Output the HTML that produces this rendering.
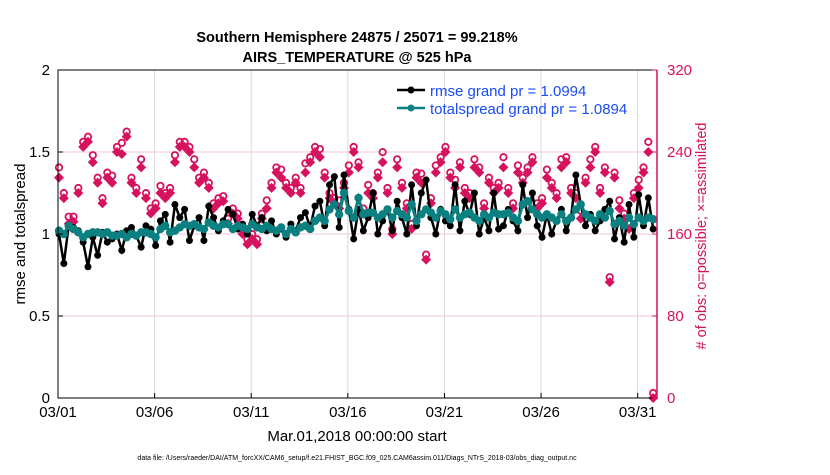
<!DOCTYPE html>
<html><head><meta charset="utf-8"><style>
body{margin:0;background:#fff;}
svg{font-family:"Liberation Sans",sans-serif;}
</style></head><body>
<svg id="c" width="830" height="470" xmlns="http://www.w3.org/2000/svg">
<g id="grid"></g>
<g id="marks"></g>
<g id="axes"></g>
<text x="357" y="42" text-anchor="middle" font-size="14.5" font-weight="bold">Southern Hemisphere 24875 / 25071 = 99.218%</text>
<text x="357" y="62" text-anchor="middle" font-size="14.5" font-weight="bold">AIRS_TEMPERATURE @ 525 hPa</text>
<text transform="translate(25,234) rotate(-90)" text-anchor="middle" font-size="15">rmse and totalspread</text>
<text transform="translate(706,236) rotate(-90)" text-anchor="middle" font-size="14.5" fill="#d6115e"># of obs: o=possible; ×=assimilated</text>
<text x="357" y="441" text-anchor="middle" font-size="15">Mar.01,2018 00:00:00 start</text>
<text x="357" y="460" text-anchor="middle" font-size="7">data file: /Users/raeder/DAI/ATM_forcXX/CAM6_setup/f.e21.FHIST_BGC.f09_025.CAM6assim.011/Diags_NTrS_2018-03/obs_diag_output.nc</text>
<g>
<line x1="397" y1="90" x2="425" y2="90" stroke="#000" stroke-width="2.5"/>
<circle cx="411" cy="90" r="3.5" fill="#000"/>
<text x="430" y="96" font-size="15" fill="#1a4cf5">rmse grand pr = 1.0994</text>
<line x1="397" y1="108" x2="425" y2="108" stroke="#0a8080" stroke-width="2.5"/>
<circle cx="411" cy="108" r="3.5" fill="#0a8080"/>
<text x="430" y="114" font-size="15" fill="#1a4cf5">totalspread grand pr = 1.0894</text>
</g>
</svg>
<script>
const xTickLabels=["03/01","03/06","03/11","03/16","03/21","03/26","03/31"];
const xTickDays=[0,5,10,15,20,25,30];
const yTicksLeft=[0,0.5,1,1.5,2];
const yTicksRight=[0,80,160,240,320];
const rmse=[1.00,0.82,1.05,1.04,1.02,0.95,0.80,0.98,0.87,1.01,0.95,0.97,1.00,0.90,1.02,1.04,0.99,0.92,1.05,1.03,
0.93,1.08,1.12,0.95,1.18,1.10,1.15,0.96,1.05,1.10,0.96,1.17,1.10,1.02,1.08,1.15,1.12,1.03,1.06,1.00,
1.12,1.05,1.10,1.02,1.08,1.00,1.03,0.98,1.06,1.02,1.10,1.13,1.04,1.17,1.20,1.05,1.30,1.35,1.04,1.36,
1.15,0.97,1.15,1.02,1.10,1.25,1.00,1.08,1.15,1.02,1.20,1.10,1.00,1.30,1.05,1.25,1.33,1.10,1.00,1.15,
1.08,1.05,1.30,1.02,1.20,1.12,1.25,1.00,1.10,1.02,1.25,1.03,1.05,1.15,1.08,1.02,1.30,1.10,1.25,1.05,
0.98,1.12,1.00,1.08,1.15,1.02,1.10,1.36,1.18,1.05,1.12,1.02,1.08,1.15,1.20,0.97,1.10,0.95,1.18,0.98,
1.24,1.05,1.22,1.03];
const spread=[1.02,1.00,1.05,1.03,1.01,0.98,1.00,1.01,1.01,1.00,1.01,0.99,0.99,1.00,0.98,1.00,0.99,1.01,1.01,1.00,
0.98,1.03,1.05,1.01,1.02,1.04,1.06,1.05,1.06,1.04,1.03,1.07,1.05,1.04,1.06,1.06,1.03,1.05,1.04,1.03,
1.06,1.04,1.03,1.05,1.03,1.02,1.04,1.00,1.03,1.01,1.04,1.05,1.03,1.08,1.10,1.08,1.15,1.18,1.12,1.25,
1.14,1.10,1.22,1.12,1.13,1.13,1.10,1.12,1.15,1.10,1.14,1.12,1.10,1.18,1.08,1.12,1.15,1.13,1.10,1.14,
1.12,1.09,1.15,1.10,1.12,1.13,1.10,1.08,1.12,1.10,1.13,1.12,1.12,1.13,1.10,1.08,1.18,1.20,1.15,1.12,
1.10,1.12,1.10,1.08,1.12,1.08,1.10,1.15,1.18,1.12,1.10,1.08,1.12,1.10,1.14,1.06,1.08,1.05,1.10,1.06,
1.10,1.08,1.10,1.09];
const obsAssim=[215,195,170,172,200,245,250,230,210,190,215,210,240,238,255,210,200,225,195,180,
185,200,195,200,230,245,245,240,225,210,215,205,185,190,192,170,180,175,160,150,
155,150,175,185,205,220,215,205,200,210,200,220,230,240,235,215,195,190,185,205,
220,240,225,180,200,195,215,230,200,160,225,205,185,165,215,210,135,190,220,230,
240,215,205,225,200,195,225,220,185,210,200,205,225,200,185,220,210,220,230,185,
190,215,205,195,225,230,200,195,175,210,225,240,200,220,113,215,185,175,165,195,
205,220,240,0];
const obsPoss=[220,195,172,172,200,245,250,232,210,190,215,212,240,244,255,210,200,228,195,180,
185,202,195,200,232,245,245,240,228,210,215,205,185,190,192,170,180,175,162,150,
155,150,175,188,205,220,218,205,200,210,200,224,230,240,238,215,195,190,188,205,
222,240,225,180,203,195,215,235,200,160,228,205,185,165,215,214,135,190,222,230,
240,215,208,225,200,195,228,220,185,210,200,205,230,200,185,222,210,220,230,185,
190,218,205,195,228,230,200,195,178,210,228,240,200,220,113,215,188,175,165,195,
208,220,245,0];
const NS="http://www.w3.org/2000/svg";
const X0=58,X1=657,Y0=398,Y1=70;
const xs=d=>X0+d*(X1-X0)/31;
const xi=i=>xs(i*0.25)+1;
const yl=v=>Y0-v/2*(Y0-Y1);
const yr=v=>Y0-v/320*(Y0-Y1);
function mk(tag,attrs,parent){const e=document.createElementNS(NS,tag);for(const k in attrs)e.setAttribute(k,attrs[k]);document.getElementById(parent).appendChild(e);return e;}
xTickDays.forEach(d=>{const l=mk('line',{x1:xs(d),x2:xs(d),y1:Y1,y2:Y0,stroke:'#d9d9d9','stroke-width':1},'grid');

});
yTicksRight.forEach(v=>{const l=mk('line',{x1:X0,x2:X1,y1:yr(v),y2:yr(v),stroke:'#f6c6d8','stroke-width':1},'grid');

});
obsPoss.forEach((v,i)=>{const c=mk('circle',{cx:xi(i),cy:yr(v)-5,r:3.2,fill:'none',stroke:'#d6115e','stroke-width':1.8},'marks');

});
obsAssim.forEach((v,i)=>{const x=xi(i),y=yr(v);const p=mk('path',{d:`M${x-5} ${y}L${x} ${y-5}L${x+5} ${y}L${x} ${y+5}Z`,fill:'#d6115e'},'marks');

});
function series(arr,col,name,w,r){const pl=mk('polyline',{points:arr.map((v,i)=>xi(i)+','+yl(v)).join(' '),fill:'none',stroke:col,'stroke-width':w},'marks');


arr.forEach((v,i)=>{const c=mk('circle',{cx:xi(i),cy:yl(v),r:r,fill:col},'marks');

});}
series(rmse,'#000','rmse',2.5,3.5);
series(spread,'#0a8080','totalspread',3,4.2);
const frame=mk('path',{d:`M${X1} ${Y1}H${X0}V${Y0}H${X1}`,fill:'none',stroke:'#000','stroke-width':1},'axes');


const ra=mk('line',{x1:X1,x2:X1,y1:Y1,y2:Y0,stroke:'#d6115e','stroke-width':1.5},'axes');


xTickDays.forEach((d,k)=>{mk('line',{x1:xs(d),x2:xs(d),y1:Y0,y2:Y0-5,stroke:'#000'},'axes');
const t=mk('text',{x:xs(d),y:417,'text-anchor':'middle','font-size':15},'axes');t.textContent=xTickLabels[k];

});
yTicksLeft.forEach(v=>{mk('line',{x1:X0,x2:X0+5,y1:yl(v),y2:yl(v),stroke:'#000'},'axes');
const t=mk('text',{x:X0-8,y:yl(v)+5,'text-anchor':'end','font-size':15},'axes');t.textContent=v;

});
yTicksRight.forEach(v=>{mk('line',{x1:X1,x2:X1-5,y1:yr(v),y2:yr(v),stroke:'#d6115e'},'axes');
const t=mk('text',{x:X1+10,y:yr(v)+5,'font-size':15,fill:'#d6115e'},'axes');t.textContent=v;

});
</script>
</body></html>
